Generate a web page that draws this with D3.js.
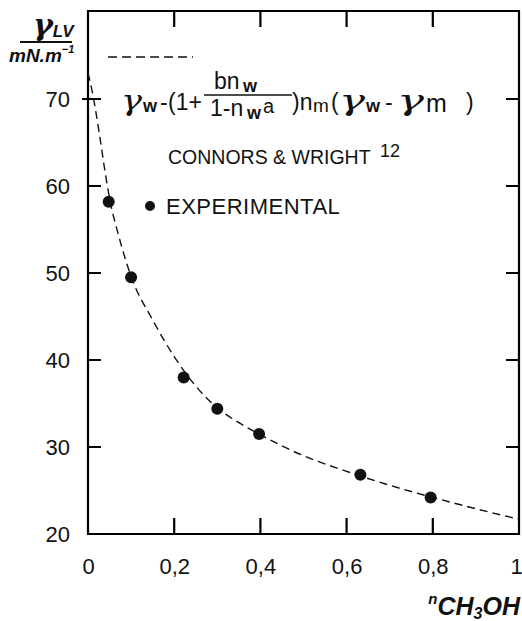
<!DOCTYPE html>
<html lang="en">
<head>
<meta charset="UTF-8">
<title>Surface tension of water-methanol mixtures</title>
<script src="https://d3js.org/d3.v7.min.js"></script>
<style>
    body { margin: 0; background: #fff; }
    text { font-family: "Liberation Sans", Arial, sans-serif; fill: #111; }
    .tick text { font-size: 22px; fill: #111; }
    .domain { stroke: none; }
</style>
</head>
<body>
<script>
    // measured points (mole fraction of methanol, surface tension mN/m)
    const expX = [0.048, 0.1, 0.222, 0.3, 0.397, 0.632, 0.795];
    const expY = [58.2, 49.5, 38.0, 34.4, 31.5, 26.8, 24.2];

    // Connors & Wright curve
    const fitX = [0, 0.01, 0.02, 0.03, 0.04, 0.05, 0.07, 0.1, 0.15, 0.2, 0.25, 0.3, 0.35, 0.4, 0.5, 0.6, 0.7, 0.8, 0.9, 1.0];
    const fitY = [73.0, 70.8, 68.0, 64.8, 61.5, 58.6, 54.5, 49.6, 44.6, 40.4, 37.0, 34.5, 32.8, 31.4, 29.0, 27.2, 25.6, 24.2, 22.9, 21.7];

    const xTicks = [0, 0.2, 0.4, 0.6, 0.8, 1];
    const yTicks = [20, 30, 40, 50, 60, 70];
    const xInner = [0.2, 0.4, 0.6, 0.8];
    const yInner = [30, 40, 50, 60, 70];

    const W = 522, H = 621;
    const mLeft = 88, mRight = 519, mTop = 11, mBottom = 534;

    const svg = d3.select("body").append("svg")
        .attr("width", W)
        .attr("height", H);

    const x = d3.scaleLinear().domain([0, 1]).range([mLeft, mRight]);
    const y = d3.scaleLinear().domain([20, 80]).range([mBottom, 12]);

    const fr = d3.formatLocale({ decimal: ",", thousands: ".", grouping: [3], currency: ["", ""] });
    const fmtX = d => d === 0 || d === 1 ? String(d) : fr.format(".1f")(d);

    // labels from d3 axes
    svg.append("g")
        .attr("transform", `translate(0,${mBottom})`)
        .call(d3.axisBottom(x).tickValues(xTicks).tickFormat(fmtX)
            .tickSize(0).tickPadding(24))
        .call(g => g.selectAll(".tick text").attr("dy", "0.71em")
            .attr("dx", d => d === 1 ? -3 : 0));

    svg.append("g")
        .attr("transform", `translate(${mLeft},0)`)
        .call(d3.axisLeft(y).tickValues(yTicks).tickFormat(d3.format("d"))
            .tickSize(0).tickPadding(18))
        .call(g => g.selectAll(".tick text").attr("dy", "0.36em"));

    // frame and inward tick marks on all four sides, one path
    const tl = 16;
    let d = `M${mLeft},${mTop}H${mRight}V${mBottom}H${mLeft}Z`;
    xInner.forEach(v => {
        d += `M${x(v)},${mBottom}v${-tl}M${x(v)},${mTop}v${tl}`;
    });
    yInner.forEach(v => {
        d += `M${v === 70 ? mLeft - 6 : mLeft},${y(v)}H${mLeft + 13}M${mRight},${y(v)}h-13`;
    });
    svg.append("path")
        .attr("d", d)
        .attr("fill", "none")
        .attr("stroke", "#000")
        .attr("stroke-width", 2.2);

    // dashed fitted curve
    const fit = fitX.map((v, i) => [v, fitY[i]]);
    const curve = d3.line()
        .x(p => x(p[0]))
        .y(p => y(p[1]))
        .curve(d3.curveMonotoneX);

    svg.append("path")
        .datum(fit)
        .attr("d", curve)
        .attr("fill", "none")
        .attr("stroke", "#111")
        .attr("stroke-width", 1.4)
        .attr("stroke-dasharray", "8,5");

    // experimental points
    svg.selectAll("circle.exp")
        .data(expX.map((v, i) => [v, expY[i]]))
        .enter()
        .append("circle")
        .attr("class", "exp")
        .attr("cx", p => x(p[0]))
        .attr("cy", p => y(p[1]))
        .attr("r", 6)
        .attr("fill", "#111");

    // legend: dashed sample
    svg.append("line")
        .attr("x1", 108).attr("x2", 193)
        .attr("y1", 57).attr("y2", 57)
        .attr("stroke", "#111").attr("stroke-width", 1.6)
        .attr("stroke-dasharray", "9,5");

    // formula, piece by piece: [text, x, baseline, size, kind, stretched width]
    const B = 110;
    const pieces = [
        ["γ", 121, B, 28, "g", 21], ["w", 143, B + 2, 18, "s"], ["-", 160, B, 23, ""], ["(1+", 168, B, 23, ""],
        ["bn", 214, 89, 23, ""], ["w", 243, 92, 18, "s"],
        ["1-n", 210, 116, 23, ""], ["w", 247, 119, 18, "s"], ["a", 263, 113, 20, ""],
        [")n", 292, B, 23, ""], ["m", 313, B + 2, 19, ""], ["(", 331, B, 23, ""],
        ["γ", 339, B, 28, "g", 26], ["w", 366, B + 2, 18, "s"], ["-", 385, B, 23, ""],
        ["γ", 397, B, 28, "g", 27], ["m", 426, B + 2, 25, ""], [")", 466, B, 23, ""]
    ];
    svg.append("g").selectAll("text").data(pieces).enter().append("text")
        .attr("x", p => p[1]).attr("y", p => p[2])
        .attr("textLength", p => p[5] || null)
        .attr("lengthAdjust", p => p[5] ? "spacingAndGlyphs" : null)
        .style("font-size", p => p[3] + "px")
        .style("font-family", p => p[4] === "g" ? "'DejaVu Serif', serif" : null)
        .style("font-style", p => p[4] === "g" ? "italic" : null)
        .style("font-weight", p => p[4] === "s" ? "bold" : null)
        .text(p => p[0]);
    svg.append("line")
        .attr("x1", 204).attr("x2", 292)
        .attr("y1", 95).attr("y2", 95)
        .attr("stroke", "#111").attr("stroke-width", 1.5);

    // source
    svg.append("text")
        .attr("x", 168).attr("y", 164)
        .style("font-size", "19.5px")
        .text("CONNORS & WRIGHT");
    svg.append("text")
        .attr("x", 380).attr("y", 157)
        .style("font-size", "18px")
        .text("12");

    // legend: experimental
    svg.append("circle")
        .attr("cx", 150).attr("cy", 206).attr("r", 5).attr("fill", "#111");
    svg.append("text")
        .attr("x", 166).attr("y", 214)
        .style("font-size", "22px")
        .style("letter-spacing", "0.5px")
        .text("EXPERIMENTAL");

    // y axis title
    const yt = svg.append("text")
        .attr("x", 33).attr("y", 35)
        .style("font-weight", "bold").style("font-style", "italic");
    yt.append("tspan").text("γ").style("font-family", "DejaVu Serif").style("font-size", "30px");
    yt.append("tspan").text("LV").attr("dy", 2).style("font-size", "17px");
    svg.append("line")
        .attr("x1", 20).attr("x2", 72)
        .attr("y1", 42).attr("y2", 42)
        .attr("stroke", "#111").attr("stroke-width", 1.8);
    svg.append("text")
        .attr("x", 9).attr("y", 62)
        .style("font-weight", "bold").style("font-style", "italic").style("font-size", "19px")
        .call(t => {
            t.append("tspan").text("mN.m");
            t.append("tspan").text("−1").attr("dy", -9).style("font-size", "11px");
        });

    // x axis title
    svg.append("text")
        .attr("x", 520).attr("y", 615)
        .attr("text-anchor", "end")
        .style("font-weight", "bold").style("font-style", "italic")
        .call(t => {
            t.append("tspan").text("n").attr("dy", -11).style("font-size", "15px");
            t.append("tspan").text("CH").attr("dy", 11).style("font-size", "25px");
            t.append("tspan").text("3").attr("dy", 4).style("font-size", "16px");
            t.append("tspan").text("OH").attr("dy", -4).style("font-size", "25px");
        });
</script>
</body>
</html>
